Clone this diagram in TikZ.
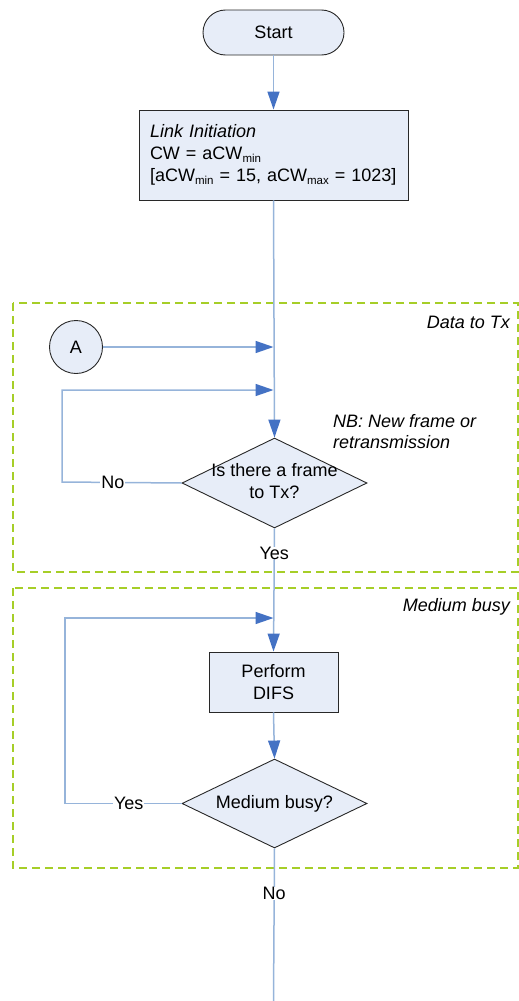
\documentclass[tikz,border=0pt]{standalone}
\usepackage{fontspec}
\setmainfont{Liberation Sans}
\usetikzlibrary{arrows.meta,shapes.geometric}
\definecolor{nodefill}{RGB}{231,237,248}
\definecolor{nodeline}{RGB}{40,40,40}
\definecolor{linecol}{RGB}{150,180,218}
\definecolor{arrowcol}{RGB}{68,114,196}
\definecolor{groupcol}{RGB}{166,206,40}
\newcommand\mysub[1]{\raisebox{-3pt}{\fontsize{11.5}{12}\selectfont #1}}
\tikzset{
  txt/.style={font=\fontsize{18}{22}\selectfont},
  box/.style={txt, draw=nodeline, fill=nodefill, line width=0.9pt},
  dec/.style={box, diamond, inner sep=0pt},
  conn/.style={draw=linecol, line width=1.5pt},
  arr/.style={conn, -{Triangle[length=18pt,width=12pt,color=arrowcol]}},
  lbl/.style={txt, fill=white, inner xsep=1pt, inner ysep=0pt},
  group/.style={draw=groupcol, line width=1.3pt, dash pattern=on 8pt off 5pt},
  grouplabel/.style={txt, font=\fontsize{18}{22}\selectfont\itshape, anchor=east, inner sep=0pt},
}
\begin{document}
\begin{tikzpicture}[x=1pt,y=-1pt]
\useasboundingbox (0,0) rectangle (519,1001);

% group boxes
\draw[group] (13,303) rectangle (518,572);
\draw[group] (13,588) rectangle (518,868);
\node[grouplabel] (gl1) at (510,322) {Data to Tx};
\node[grouplabel] (gl2) at (510,607) {Medium busy};

% nodes
\node[box, minimum width=141pt, minimum height=45pt, rounded corners=22.5pt] (start) at (273.5,32.5) {Start};
\node[box, minimum width=269pt, minimum height=90pt, inner xsep=11pt, text width=247pt, align=left] (link) at (273.5,155)
  {\textit{Link Initiation}\\CW = aCW\mysub{min}\\{}[aCW\mysub{min} = 15, aCW\mysub{max} = 1023]};
\node[box, circle, minimum size=53pt, inner sep=0pt] (A) at (76,347) {A};
\node[dec, minimum width=185pt, minimum height=90pt] (d1) at (274.5,483)
  {\makebox[0pt]{\begin{tabular}{@{}c@{}}Is there a frame\\to Tx?\end{tabular}}};
\node[txt, anchor=west, align=left, inner sep=0pt, font=\fontsize{18}{21}\selectfont\itshape] (nb) at (333,431.5)
  {NB: New frame or\\retransmission};
\node[box, minimum width=129pt, minimum height=60pt, align=center, inner sep=0pt] (difs) at (273.5,682) {Perform\\DIFS};
\node[dec, minimum width=185pt, minimum height=89pt] (d2) at (274.5,803.5)
  {\makebox[0pt]{Medium busy?}};

% coordinates
\coordinate (j1) at (273.5,347);
\coordinate (j2) at (273.5,390);
\coordinate (j3) at (273.5,618);
\coordinate (c1) at (62,482);
\coordinate (c2) at (65,803.5);
\coordinate (bot) at (273.5,1001);

% connectors
\draw[arr] (start.south) -- (link.north);
\draw[arr] (link.south) -- (d1.north);
\draw[arr] (A.east) -- (j1);
\draw[arr] (d1.west) -- node[lbl,pos=0.575]{No} (c1) |- (j2);
\draw[arr] (d1.south) -- node[lbl,pos=0.2]{Yes} (difs.north);
\draw[arr] (d2.west) -- node[lbl,pos=0.453]{Yes} (c2) |- (j3);
\draw[arr] (difs.south) -- (d2.north);
\draw[conn] (d2.south) -- node[lbl,pos=0.294]{No} (bot);
\end{tikzpicture}
\end{document}
